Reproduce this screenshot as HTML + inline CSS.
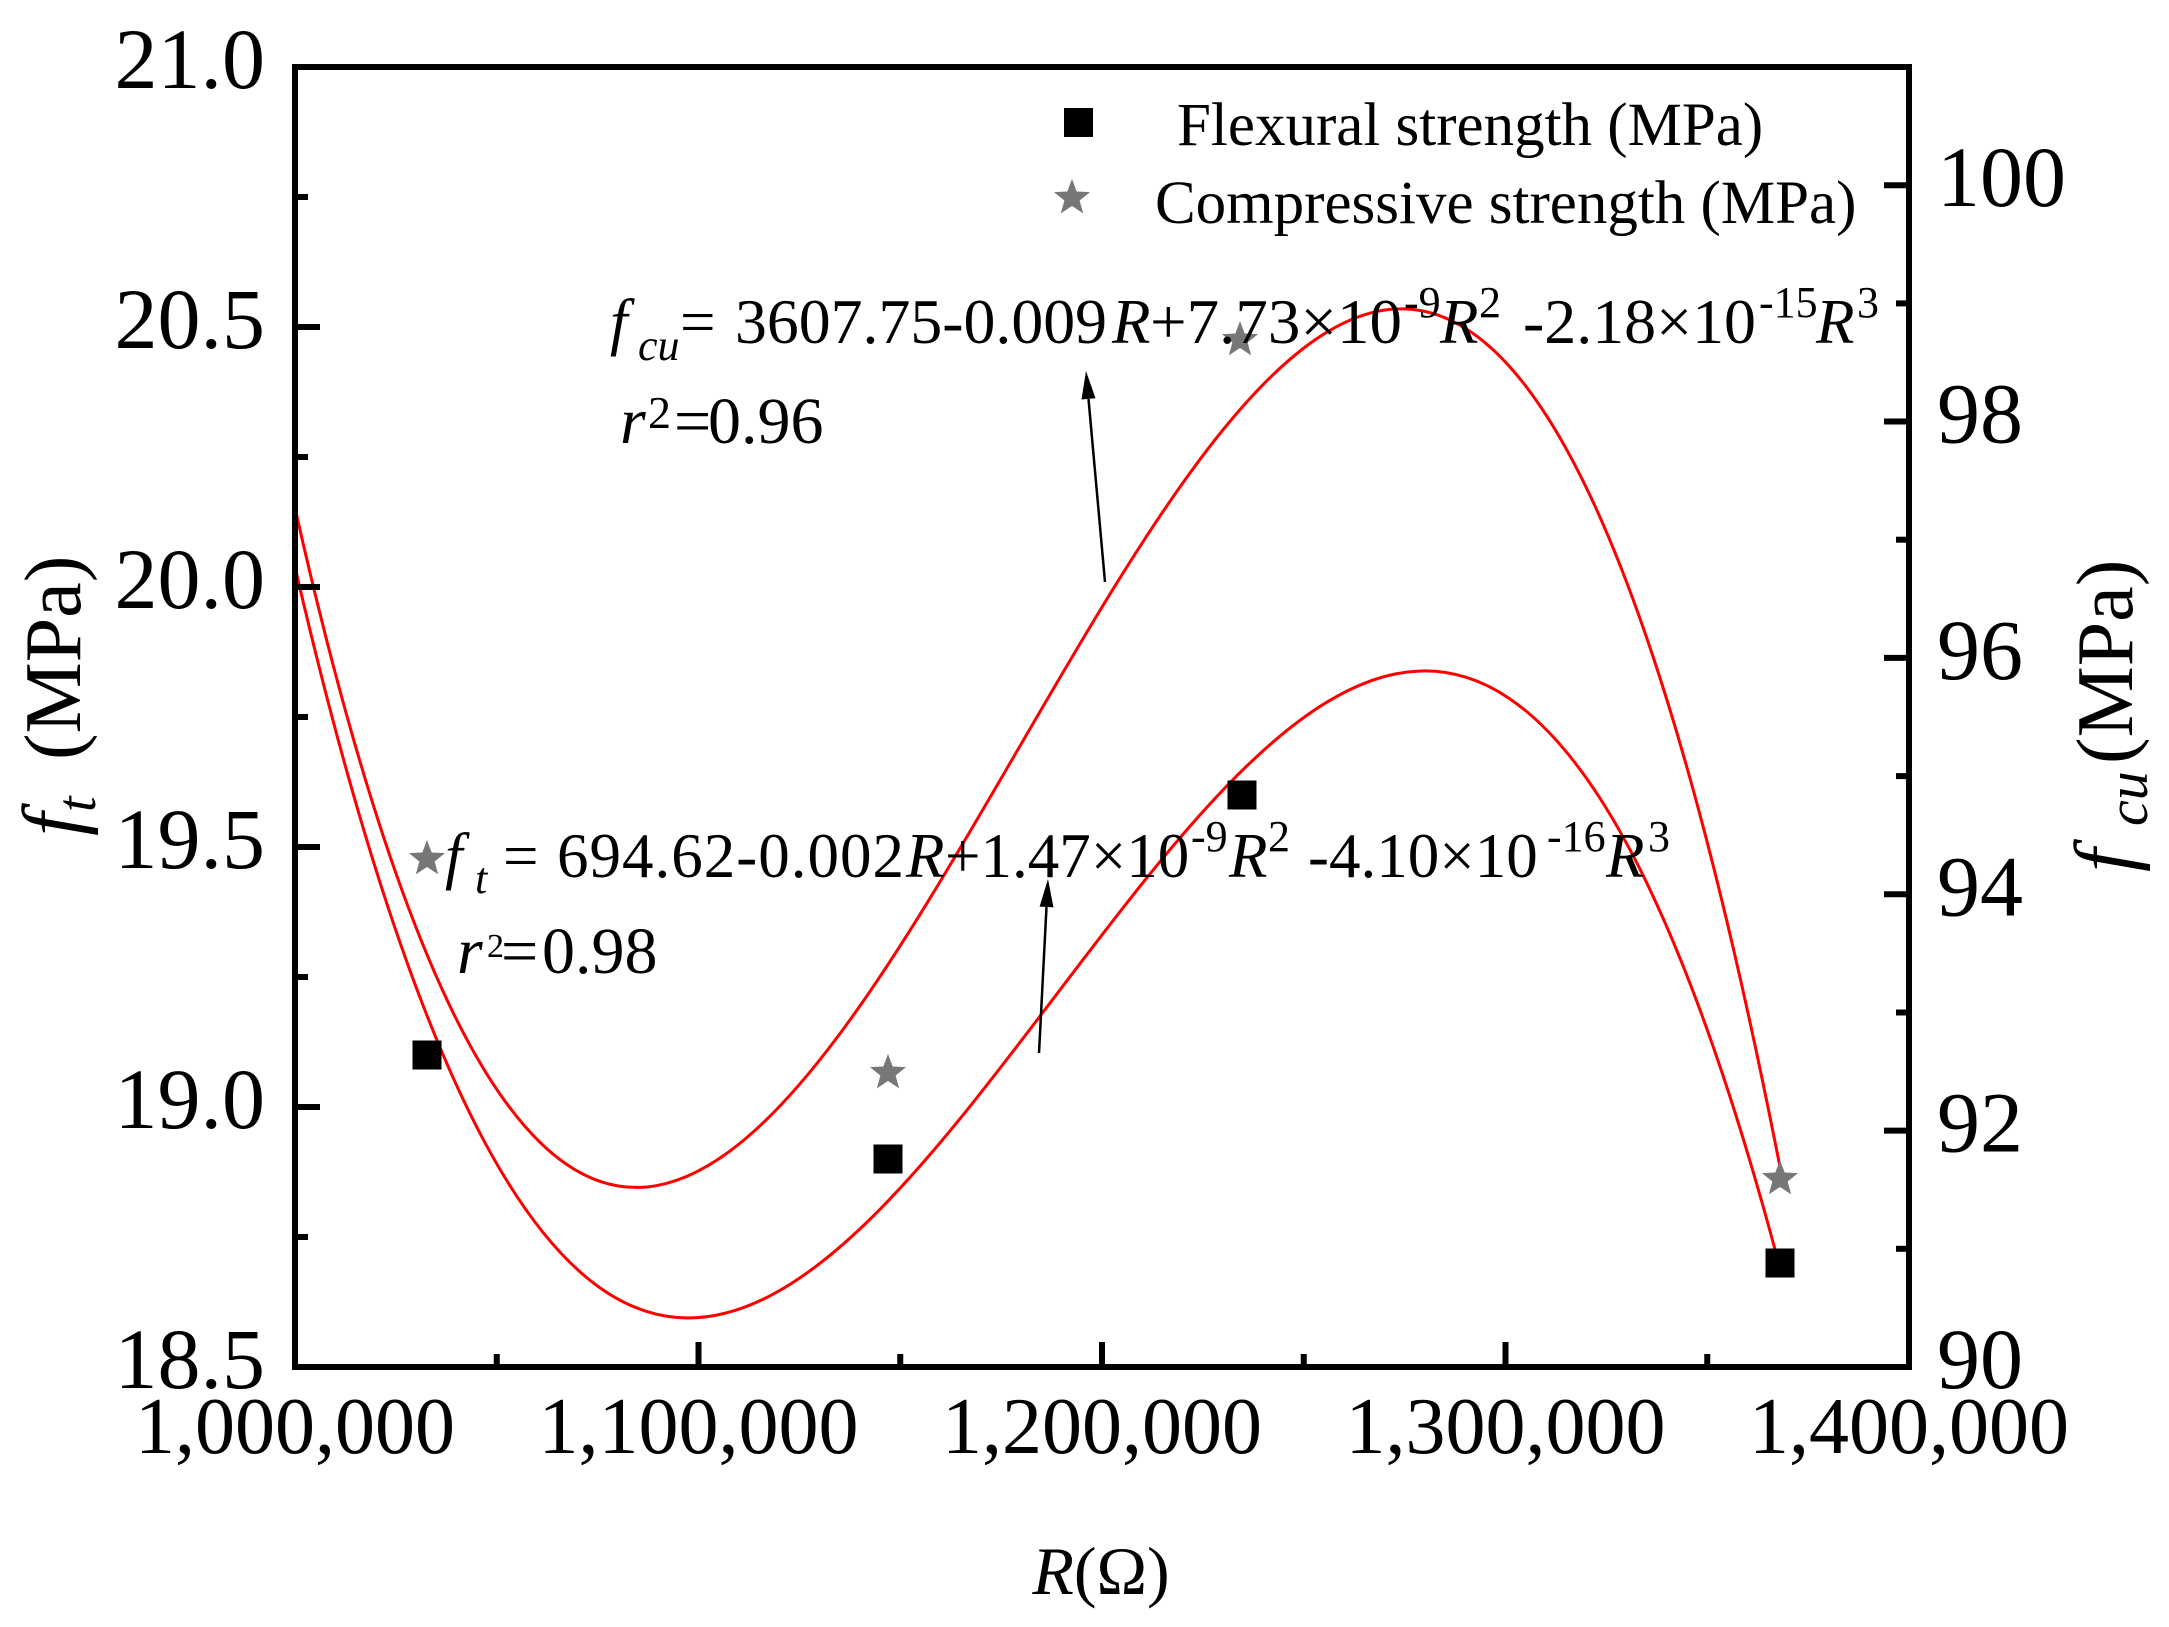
<!DOCTYPE html>
<html>
<head>
<meta charset="utf-8">
<style>
html,body{margin:0;padding:0;background:#fff;}
svg{display:block;}
text{font-family:"Liberation Serif","Times New Roman",serif;fill:#000;}
.it{font-style:italic;}
</style>
</head>
<body>
<svg width="2169" height="1627" viewBox="0 0 2169 1627" xmlns="http://www.w3.org/2000/svg">
<defs>
<polygon id="star" points="0,-19 4.7,-6.47 18.07,-5.87 7.61,2.47 11.17,15.37 0,8 -11.17,15.37 -7.61,2.47 -18.07,-5.87 -4.7,-6.47" fill="#777777"/>
</defs>
<rect width="2169" height="1627" fill="#fff"/>

<!-- fitted curves -->
<path d="M295,508 C790,2705.7 1285,-1355 1780,1167" fill="none" stroke="#ff0000" stroke-width="3"/>
<path d="M295,567 C790,2705.3 1285,-598.3 1780,1268" fill="none" stroke="#ff0000" stroke-width="3"/>

<!-- axes frame -->
<rect x="295" y="67" width="1614" height="1300" fill="none" stroke="#000" stroke-width="6"/>

<g stroke="#000" stroke-width="6">
<!-- left ticks -->
<line x1="295" y1="327" x2="320" y2="327"/>
<line x1="295" y1="587" x2="320" y2="587"/>
<line x1="295" y1="847" x2="320" y2="847"/>
<line x1="295" y1="1107" x2="320" y2="1107"/>
<line x1="295" y1="197" x2="308" y2="197"/>
<line x1="295" y1="457" x2="308" y2="457"/>
<line x1="295" y1="717" x2="308" y2="717"/>
<line x1="295" y1="977" x2="308" y2="977"/>
<line x1="295" y1="1237" x2="308" y2="1237"/>
<!-- right ticks -->
<line x1="1909" y1="1130.6" x2="1884" y2="1130.6"/>
<line x1="1909" y1="894.3" x2="1884" y2="894.3"/>
<line x1="1909" y1="657.9" x2="1884" y2="657.9"/>
<line x1="1909" y1="421.5" x2="1884" y2="421.5"/>
<line x1="1909" y1="185.2" x2="1884" y2="185.2"/>
<line x1="1909" y1="1248.8" x2="1896" y2="1248.8"/>
<line x1="1909" y1="1012.5" x2="1896" y2="1012.5"/>
<line x1="1909" y1="776.1" x2="1896" y2="776.1"/>
<line x1="1909" y1="539.7" x2="1896" y2="539.7"/>
<line x1="1909" y1="303.4" x2="1896" y2="303.4"/>
<!-- bottom ticks -->
<line x1="698.5" y1="1367" x2="698.5" y2="1342"/>
<line x1="1102" y1="1367" x2="1102" y2="1342"/>
<line x1="1505.5" y1="1367" x2="1505.5" y2="1342"/>
<line x1="496.75" y1="1367" x2="496.75" y2="1354"/>
<line x1="900.25" y1="1367" x2="900.25" y2="1354"/>
<line x1="1303.75" y1="1367" x2="1303.75" y2="1354"/>
<line x1="1707.25" y1="1367" x2="1707.25" y2="1354"/>
</g>

<!-- left tick labels -->
<g font-size="86" text-anchor="end">
<text x="265" y="88">21.0</text>
<text x="265" y="348">20.5</text>
<text x="265" y="608">20.0</text>
<text x="265" y="868">19.5</text>
<text x="265" y="1128">19.0</text>
<text x="265" y="1388">18.5</text>
</g>
<!-- right tick labels -->
<g font-size="86">
<text x="1937" y="206">100</text>
<text x="1937" y="442.5">98</text>
<text x="1937" y="679">96</text>
<text x="1937" y="915.3">94</text>
<text x="1937" y="1151.6">92</text>
<text x="1937" y="1388">90</text>
</g>
<!-- bottom tick labels -->
<g font-size="80" text-anchor="middle">
<text x="295" y="1453">1,000,000</text>
<text x="698.5" y="1453">1,100,000</text>
<text x="1102" y="1453">1,200,000</text>
<text x="1505.5" y="1453">1,300,000</text>
<text x="1909" y="1453">1,400,000</text>
</g>

<!-- axis titles -->
<g transform="translate(80,0) rotate(-90)">
<text x="-836" y="0" class="it" font-size="84">f</text>
<text x="-812" y="15" class="it" font-size="56">t</text>
<text x="-760" y="0" font-size="80">(MPa)</text>
</g>
<g transform="translate(2132,0) rotate(-90)">
<text x="-872" y="0" class="it" font-size="84">f</text>
<text x="-826" y="15" class="it" font-size="58">cu</text>
<text x="-764" y="0" font-size="80">(MPa)</text>
</g>
<text x="1101" y="1594" text-anchor="middle" font-size="68"><tspan class="it">R</tspan>(Ω)</text>

<!-- legend -->
<rect x="1064" y="108" width="29" height="29" fill="#000"/>
<use href="#star" x="1072" y="198"/>
<text x="1177" y="145" font-size="61">Flexural strength (MPa)</text>
<text x="1155" y="223" font-size="61">Compressive strength (MPa)</text>

<!-- data: squares -->
<g fill="#000">
<rect x="412.5" y="1040.5" width="29" height="29"/>
<rect x="873.5" y="1144.5" width="29" height="29"/>
<rect x="1227.5" y="780.5" width="29" height="29"/>
<rect x="1765.5" y="1248.5" width="29" height="29"/>
</g>
<!-- data: stars -->
<use href="#star" x="427" y="859"/>
<use href="#star" x="888" y="1073"/>
<use href="#star" x="1240" y="340"/>
<use href="#star" x="1780" y="1179"/>

<!-- fcu equation -->
<g font-size="63">
<text x="610" y="343" class="it">f</text>
<text x="638" y="360" class="it" font-size="44">cu</text>
<text x="680" y="343">=</text>
<text x="735" y="343" textLength="372" lengthAdjust="spacingAndGlyphs">3607.75-0.009</text>
<text x="1112" y="343" class="it">R</text>
<text x="1150" y="343" textLength="252" lengthAdjust="spacingAndGlyphs">+7.73×10</text>
<text x="1404" y="317" font-size="44">-9</text>
<text x="1440" y="343" class="it">R</text>
<text x="1479" y="317" font-size="44">2</text>
<text x="1523" y="343" textLength="233" lengthAdjust="spacingAndGlyphs">-2.18×10</text>
<text x="1759" y="317" font-size="44">-15</text>
<text x="1816" y="343" class="it">R</text>
<text x="1857" y="317" font-size="44">3</text>
</g>
<text x="620" y="443" class="it" font-size="66">r</text>
<text x="648" y="428" font-size="46">2</text>
<text x="674" y="443" font-size="66">=</text>
<text x="708" y="443" font-size="66">0.96</text>

<!-- ft equation -->
<g font-size="63">
<text x="445" y="877" class="it">f</text>
<text x="475" y="893" class="it" font-size="44">t</text>
<text x="503" y="877">=</text>
<text x="557" y="877" letter-spacing="1">694.62-0.002</text>
<text x="906" y="877" class="it">R</text>
<text x="945" y="877">+1.47×10</text>
<text x="1191" y="851" font-size="44">-9</text>
<text x="1229" y="877" class="it">R</text>
<text x="1268" y="851" font-size="44">2</text>
<text x="1308" y="877">-4.10×10</text>
<text x="1547" y="851" font-size="44">-16</text>
<text x="1606" y="877" class="it">R</text>
<text x="1648" y="851" font-size="44">3</text>
</g>
<text x="457" y="973" class="it" font-size="66">r</text>
<text x="487" y="957" font-size="34">2</text>
<text x="501" y="973" font-size="66">=</text>
<text x="542" y="973" font-size="66">0.98</text>

<!-- arrows -->
<line x1="1105" y1="582" x2="1088.5" y2="399" stroke="#000" stroke-width="2.5"/>
<polygon points="1086,371 1095.5,398.3 1081.5,399.5" fill="#000"/>
<line x1="1039" y1="1053" x2="1046.5" y2="907" stroke="#000" stroke-width="2.5"/>
<polygon points="1048,879 1053.5,907.4 1039.6,906.6" fill="#000"/>
</svg>
</body>
</html>
